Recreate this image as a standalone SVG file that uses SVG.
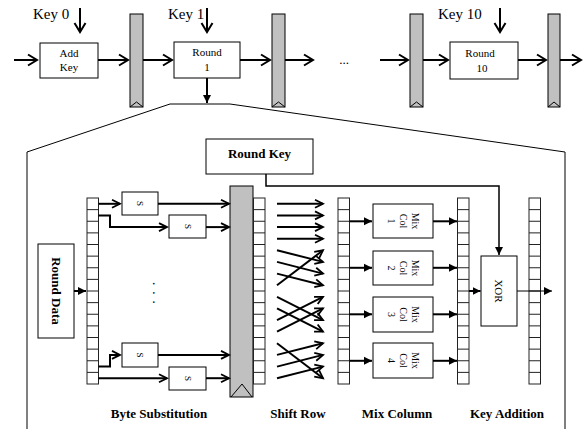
<svg xmlns="http://www.w3.org/2000/svg" xmlns:xlink="http://www.w3.org/1999/xlink" width="586" height="429" viewBox="0 0 586 429">
<style>
text{font-family:"Liberation Serif","Times New Roman",serif;fill:#000}
.box{fill:#fff;stroke:#000;stroke-width:1}
.bar{fill:#c0c0c0;stroke:#000;stroke-width:1}
.thick{fill:none;stroke:#000;stroke-width:2}
.med{fill:none;stroke:#000;stroke-width:1.5}
.thin{fill:none;stroke:#000;stroke-width:1}
.lbl{font-size:13px;font-weight:bold;text-anchor:middle}
.small{font-size:11px;text-anchor:middle}
</style>
<defs>
<marker id="chev" markerWidth="12" markerHeight="14" refX="10" refY="7" orient="auto" markerUnits="userSpaceOnUse">
<path d="M1,1.5 L10,7 L1,12.5" fill="none" stroke="#000" stroke-width="2"/>
</marker>
<marker id="chevs" markerWidth="11" markerHeight="11" refX="9" refY="5.5" orient="auto" markerUnits="userSpaceOnUse">
<path d="M1,1.5 L9,5.5 L1,9.5" fill="none" stroke="#000" stroke-width="1.8"/>
</marker>
<marker id="tri" markerWidth="10" markerHeight="10" refX="8" refY="5" orient="auto" markerUnits="userSpaceOnUse">
<path d="M0,1 L8,5 L0,9 Z" fill="#000"/>
</marker>
<g id="reg">
<rect x="0" y="0" width="11.5" height="186" fill="#fff" stroke="#222" stroke-width="1"/>
<path d="M0,11.625h11.5M0,23.25h11.5M0,34.875h11.5M0,46.5h11.5M0,58.125h11.5M0,69.75h11.5M0,81.375h11.5M0,93h11.5M0,104.625h11.5M0,116.25h11.5M0,127.875h11.5M0,139.5h11.5M0,151.125h11.5M0,162.75h11.5M0,174.375h11.5" stroke="#222" stroke-width="1"/>
</g>
</defs>

<!-- outline of expanded round -->
<path id="outline" d="M27,429 V152 L170,104 H230 L565,152 V429" class="thin"/>

<!-- top row nodes -->
<g id="addkey"><rect x="40" y="43" width="58" height="35" class="box"/><text x="69" y="57" class="small">Add</text><text x="69" y="71" class="small">Key</text></g>
<g id="reg1"><rect x="130" y="14" width="13" height="93" class="bar"/><path d="M130,107 L136.5,102 L143,107" class="thin"/></g>
<g id="round1"><rect x="174" y="42" width="66" height="36" class="box"/><text x="207" y="56" class="small">Round</text><text x="207" y="71" class="small">1</text></g>
<g id="reg2"><rect x="272" y="14" width="13" height="93" class="bar"/><path d="M272,107 L278.5,102 L285,107" class="thin"/></g>
<g id="reg3"><rect x="410" y="14" width="13" height="93" class="bar"/><path d="M410,107 L416.5,102 L423,107" class="thin"/></g>
<g id="round10"><rect x="450" y="42" width="68" height="37" class="box"/><text x="480" y="57" class="small">Round</text><text x="482" y="72" class="small">10</text></g>
<g id="reg4"><rect x="548" y="14" width="12" height="93" class="bar"/><path d="M548,107 L554,102 L560,107" class="thin"/></g>
<g id="keylabels">
<text x="33" y="19" font-size="15">Key 0</text>
<text x="168" y="19" font-size="15">Key 1</text>
<text x="438" y="19" font-size="15">Key 10</text>
<text x="344" y="64" font-size="13" text-anchor="middle">...</text>
</g>

<!-- detailed round nodes -->
<g id="roundkey"><rect x="206" y="139" width="107" height="35" class="box"/><text x="259.5" y="158" class="lbl">Round Key</text></g>
<g id="rounddata"><rect x="38" y="244" width="36" height="94" class="box"/><text transform="translate(56,291) rotate(90)" y="4.5" class="lbl">Round Data</text></g>
<g id="regA"><use xlink:href="#reg" x="87" y="198"/></g>
<g id="sbox1"><rect x="122" y="192" width="36" height="23" class="box"/><text transform="translate(140,203.5) rotate(90)" y="3" font-size="9" text-anchor="middle">S</text></g>
<g id="sbox2"><rect x="169" y="215" width="37" height="23" class="box"/><text transform="translate(187.5,226.5) rotate(90)" y="3" font-size="9" text-anchor="middle">S</text></g>
<g id="sbox3"><rect x="122" y="343" width="36" height="24" class="box"/><text transform="translate(140,355) rotate(90)" y="3" font-size="9" text-anchor="middle">S</text></g>
<g id="sbox4"><rect x="169" y="367" width="37" height="23" class="box"/><text transform="translate(187.5,378.5) rotate(90)" y="3" font-size="9" text-anchor="middle">S</text></g>
<g id="dots"><text transform="translate(153,282) rotate(90)" font-size="13" letter-spacing="6">...</text></g>
<g id="sreg"><rect x="230" y="186" width="23" height="211" class="bar"/><path d="M231,397 L242,384 L252,397" class="thin"/></g>
<g id="regB"><use xlink:href="#reg" x="253.5" y="198"/></g>
<g id="regC"><use xlink:href="#reg" x="338" y="198"/></g>
<g id="mix1"><rect x="373" y="204" width="60" height="34" class="box"/><text transform="translate(403,221) rotate(90)" text-anchor="middle" font-size="10"><tspan x="0" y="-9">Mix</tspan><tspan x="0" y="3">Col</tspan><tspan x="0" y="15">1</tspan></text></g>
<g id="mix2"><rect x="373" y="251" width="60" height="34" class="box"/><text transform="translate(403,268) rotate(90)" text-anchor="middle" font-size="10"><tspan x="0" y="-9">Mix</tspan><tspan x="0" y="3">Col</tspan><tspan x="0" y="15">2</tspan></text></g>
<g id="mix3"><rect x="373" y="297" width="60" height="35" class="box"/><text transform="translate(403,314.5) rotate(90)" text-anchor="middle" font-size="10"><tspan x="0" y="-9">Mix</tspan><tspan x="0" y="3">Col</tspan><tspan x="0" y="15">3</tspan></text></g>
<g id="mix4"><rect x="373" y="343" width="60" height="35" class="box"/><text transform="translate(403,360.5) rotate(90)" text-anchor="middle" font-size="10"><tspan x="0" y="-9">Mix</tspan><tspan x="0" y="3">Col</tspan><tspan x="0" y="15">4</tspan></text></g>
<g id="regD"><use xlink:href="#reg" x="457.5" y="198"/></g>
<g id="xor"><rect x="481" y="256" width="36" height="70" class="box"/><text transform="translate(499,291) rotate(90)" y="4" font-size="11" text-anchor="middle">XOR</text></g>
<g id="regE"><use xlink:href="#reg" x="529" y="198"/></g>
<g id="labels">
<text x="159" y="418" class="lbl">Byte Substitution</text>
<text x="298" y="418" class="lbl">Shift Row</text>
<text x="397" y="418" class="lbl">Mix Column</text>
<text x="507" y="418" class="lbl">Key Addition</text>
</g>

<!-- connectors -->
<g id="connectors">
<g class="thick">
<line x1="14" y1="60" x2="37" y2="60" marker-end="url(#chev)"/>
<line x1="98" y1="60" x2="128" y2="60" marker-end="url(#chev)"/>
<line x1="143" y1="60" x2="172" y2="60" marker-end="url(#chev)"/>
<line x1="240" y1="60" x2="270" y2="60" marker-end="url(#chev)"/>
<line x1="285" y1="60" x2="313" y2="60" marker-end="url(#chev)"/>
<line x1="380" y1="60" x2="408" y2="60" marker-end="url(#chev)"/>
<line x1="423" y1="60" x2="448" y2="60" marker-end="url(#chev)"/>
<line x1="518" y1="60" x2="546" y2="60" marker-end="url(#chev)"/>
<line x1="560" y1="60" x2="581" y2="60" marker-end="url(#chev)"/>
<line x1="80" y1="8" x2="80" y2="32" marker-end="url(#chev)"/>
<line x1="207" y1="8" x2="207" y2="32" marker-end="url(#chev)"/>
<line x1="500" y1="8" x2="500" y2="32" marker-end="url(#chev)"/>
<line x1="207" y1="78" x2="207" y2="103" marker-end="url(#tri)"/>
</g>
<g class="thick">
<polyline points="98.5,203.8 120,203.8" marker-end="url(#chevs)"/>
<polyline points="98.5,215.4 110,215.4 110,227.1 167,227.1" marker-end="url(#chevs)"/>
<polyline points="98.5,366.6 110,366.6 110,354.9 120,354.9" marker-end="url(#chevs)"/>
<polyline points="98.5,378.2 167,378.2" marker-end="url(#chevs)"/>
<line x1="158" y1="203.8" x2="229" y2="203.8" marker-end="url(#chevs)"/>
<line x1="206" y1="227.1" x2="229" y2="227.1" marker-end="url(#chevs)"/>
<line x1="158" y1="354.9" x2="229" y2="354.9" marker-end="url(#chevs)"/>
<line x1="206" y1="378.2" x2="229" y2="378.2" marker-end="url(#chevs)"/>
<line x1="74" y1="291" x2="86" y2="291" marker-end="url(#tri)"/>
</g>
<g class="thick">
<line x1="277" y1="203.8" x2="323" y2="203.8" marker-end="url(#chevs)"/>
<line x1="277" y1="215.4" x2="323" y2="215.4" marker-end="url(#chevs)"/>
<line x1="277" y1="227.1" x2="323" y2="227.1" marker-end="url(#chevs)"/>
<line x1="277" y1="238.7" x2="323" y2="238.7" marker-end="url(#chevs)"/>
<line x1="277" y1="250.3" x2="323" y2="261.9" marker-end="url(#chevs)"/>
<line x1="277" y1="261.9" x2="323" y2="273.6" marker-end="url(#chevs)"/>
<line x1="277" y1="273.6" x2="323" y2="285.2" marker-end="url(#chevs)"/>
<line x1="277" y1="285.2" x2="323" y2="250.3" marker-end="url(#chevs)"/>
<line x1="277" y1="296.8" x2="323" y2="320.1" marker-end="url(#chevs)"/>
<line x1="277" y1="308.4" x2="323" y2="331.7" marker-end="url(#chevs)"/>
<line x1="277" y1="320.1" x2="323" y2="296.8" marker-end="url(#chevs)"/>
<line x1="277" y1="331.7" x2="323" y2="308.4" marker-end="url(#chevs)"/>
<line x1="277" y1="343.3" x2="323" y2="378.2" marker-end="url(#chevs)"/>
<line x1="277" y1="354.9" x2="323" y2="343.3" marker-end="url(#chevs)"/>
<line x1="277" y1="366.6" x2="323" y2="354.9" marker-end="url(#chevs)"/>
<line x1="277" y1="378.2" x2="323" y2="366.6" marker-end="url(#chevs)"/>
</g>
<g class="thick">
<line x1="349.5" y1="221.3" x2="372" y2="221.3" marker-end="url(#tri)"/>
<line x1="349.5" y1="267.8" x2="372" y2="267.8" marker-end="url(#tri)"/>
<line x1="349.5" y1="314.3" x2="372" y2="314.3" marker-end="url(#tri)"/>
<line x1="349.5" y1="360.8" x2="372" y2="360.8" marker-end="url(#tri)"/>
<line x1="433" y1="221.3" x2="457" y2="221.3" marker-end="url(#tri)"/>
<line x1="433" y1="267.8" x2="457" y2="267.8" marker-end="url(#tri)"/>
<line x1="433" y1="314.3" x2="457" y2="314.3" marker-end="url(#tri)"/>
<line x1="433" y1="360.8" x2="457" y2="360.8" marker-end="url(#tri)"/>
<line x1="469" y1="291" x2="480.5" y2="291" marker-end="url(#tri)"/>
</g>
<polyline points="266,174 266,186 499,186 499,255" class="med" marker-end="url(#tri)"/>
<line x1="517" y1="291" x2="552" y2="291" class="thin" marker-end="url(#tri)"/>
</g>
</svg>
